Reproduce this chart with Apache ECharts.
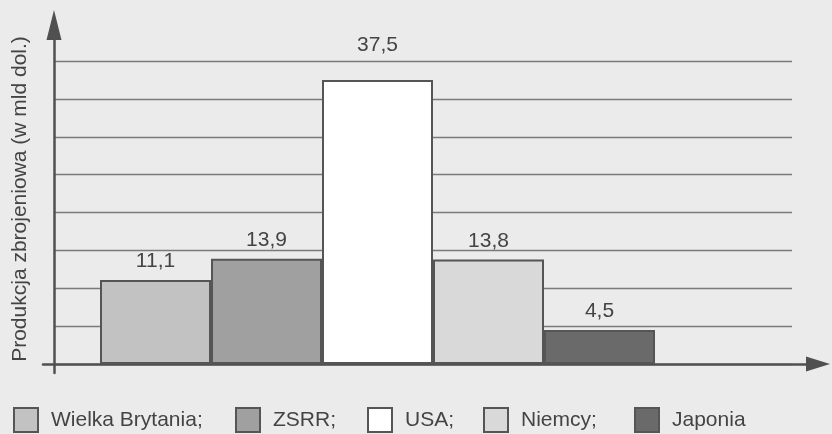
<!DOCTYPE html>
<html>
<head>
<meta charset="utf-8">
<script src="https://cdn.jsdelivr.net/npm/echarts@6/dist/echarts.min.js"></script>
<style>
  html, body { margin: 0; padding: 0; background: #ebebeb; }
  #main { width: 832px; height: 434px; }
</style>
</head>
<body>
<div id="main"></div>
<script>
// dane
var countries = ['Wielka Brytania', 'ZSRR', 'USA', 'Niemcy', 'Japonia'];
var values = [11.1, 13.9, 37.5, 13.8, 4.5];
var colors = ['#c2c2c2', '#a0a0a0', '#ffffff', '#d9d9d9', '#6a6a6a'];
var legendLabels = ['Wielka Brytania;', 'ZSRR;', 'USA;', 'Niemcy;', 'Japonia'];
var legendLeft = [8, 230, 362, 478, 629];
var labelDistance = [8, 8, 24, 8, 8];

var myChart = echarts.init(document.getElementById('main'));

var font = "'Liberation Sans', Arial, sans-serif";

var series = countries.map(function (c, i) {
    return {
        name: c,
        type: 'bar',
        stack: 'a',
        xAxisIndex: 2,
        yAxisIndex: 2,
        barCategoryGap: '0%',
        data: countries.map(function (_, j) { return j === i ? values[i] : '-'; }),
        itemStyle: { color: colors[i], borderColor: '#555', borderWidth: 2 },
        label: {
            show: true,
            position: 'top',
            distance: labelDistance[i],
            fontFamily: font,
            fontSize: 21,
            color: '#444',
            formatter: function (p) { return String(p.value).replace('.', ','); }
        }
    };
});

var legends = countries.map(function (c, i) {
    return {
        data: [c],
        left: legendLeft[i],
        top: 402,
        icon: 'rect',
        itemWidth: 24,
        itemHeight: 24,
        selectedMode: false,
        itemStyle: { borderColor: '#555', borderWidth: 2 },
        formatter: function () { return legendLabels[i]; },
        textStyle: { fontFamily: font, fontSize: 21, color: '#444', padding: [0, 0, 0, 8] }
    };
});

var option = {
    backgroundColor: '#ebebeb',
    animation: false,
    legend: legends,
    grid: [
        // linie siatki
        { left: 54, right: 40, top: 61, bottom: 70 },
        // osie ze strzałkami
        { left: 43, right: 14, top: 25, bottom: 61 },
        // słupki
        { left: 100, right: 177, top: 61, bottom: 70 }
    ],
    xAxis: [
        { gridIndex: 0, type: 'value', show: false },
        {
            gridIndex: 1, type: 'value', min: 0, max: 1, offset: -9,
            axisLine: { show: true, onZero: false, symbol: ['none', 'triangle'], symbolSize: [15, 24],
                lineStyle: { color: '#505050', width: 2.5 } },
            axisTick: { show: false }, axisLabel: { show: false }, splitLine: { show: false }
        },
        { gridIndex: 2, type: 'category', data: countries, show: false }
    ],
    yAxis: [
        {
            gridIndex: 0, type: 'value', min: 0, max: 40, interval: 5,
            axisLine: { show: false }, axisTick: { show: false }, axisLabel: { show: false },
            splitLine: { show: true, lineStyle: { color: '#7a7a7a', width: 1.3 } }
        },
        {
            gridIndex: 1, type: 'value', min: 0, max: 1, offset: -11,
            name: 'Produkcja zbrojeniowa (w mld dol.)',
            nameLocation: 'middle',
            nameRotate: 90,
            nameGap: 23,
            nameTextStyle: { fontFamily: font, fontSize: 21, color: '#444' },
            axisLine: { show: true, onZero: false, symbol: ['none', 'triangle'], symbolSize: [15, 30],
                lineStyle: { color: '#505050', width: 2.5 } },
            axisTick: { show: false }, axisLabel: { show: false }, splitLine: { show: false }
        },
        { gridIndex: 2, type: 'value', min: 0, max: 40, show: false }
    ],
    series: series
};

myChart.setOption(option);
</script>
</body>
</html>
